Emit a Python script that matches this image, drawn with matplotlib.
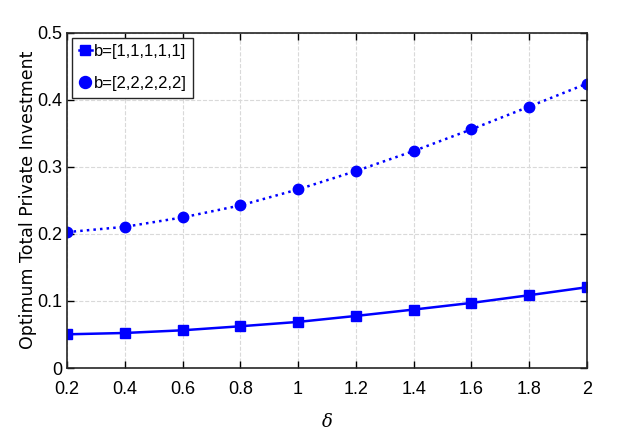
import numpy as np
import matplotlib.pyplot as plt

# Datos
delta = [0.2, 0.4, 0.6, 0.8, 1.0, 1.2, 1.4, 1.6, 1.8, 2.0]
inv_b1 = [0.0502, 0.0522, 0.0562, 0.0622, 0.0687, 0.0776, 0.0871, 0.0970, 0.1085, 0.1204]
inv_b2 = [0.2025, 0.2104, 0.2244, 0.2423, 0.2662, 0.2935, 0.3234, 0.3557, 0.3896, 0.4239]
etiquetas = ["b=[1,1,1,1,1]", "b=[2,2,2,2,2]"]

plt.rcParams['font.family'] = ['Liberation Sans', 'DejaVu Sans']
plt.rcParams['mathtext.fontset'] = 'dejavuserif'

fig = plt.figure(figsize=(6.17, 4.43), dpi=100)
ax = fig.add_axes([0.1086, 0.1693, 0.8428, 0.7573])

ax.plot(delta, inv_b1, '-s', color='#0000ff', lw=1.8, ms=6.5, label=etiquetas[0])
ax.plot(delta, inv_b2, ':o', color='#0000ff', lw=1.8, ms=7.5, label=etiquetas[1])

ax.set_xlim(0.2, 2)
ax.set_ylim(0, 0.5)
ax.set_xticks(np.arange(0.2, 2.01, 0.2))
ax.set_xticklabels(['0.2', '0.4', '0.6', '0.8', '1', '1.2', '1.4', '1.6', '1.8', '2'])
ax.set_yticks(np.arange(0, 0.51, 0.1))
ax.set_yticklabels(['0', '0.1', '0.2', '0.3', '0.4', '0.5'])
ax.tick_params(direction='in', top=True, right=True, labelsize=13, length=5, width=1)
ax.tick_params(axis='x', pad=9)
ax.tick_params(axis='y', pad=3.5)
ax.grid(True, ls='--', color='#d9d9d9', lw=0.8)
for s in ax.spines.values():
    s.set_linewidth(1.2)
    s.set_color('#262626')

ax.set_xlabel(r'$\delta$', fontsize=13, labelpad=11)
ax.set_ylabel("Optimum Total Private Investment", fontsize=12.5, family='DejaVu Sans', labelpad=0)

leg = ax.legend(loc='upper left', fontsize=12, handlelength=0.8, handletextpad=0.1,
                borderpad=0.4, labelspacing=1.0, fancybox=False, framealpha=1,
                borderaxespad=0.3, markerscale=1.15)
leg.get_frame().set_edgecolor('#262626')
leg.get_frame().set_linewidth(1.0)

plt.savefig("out.png", dpi=100)
